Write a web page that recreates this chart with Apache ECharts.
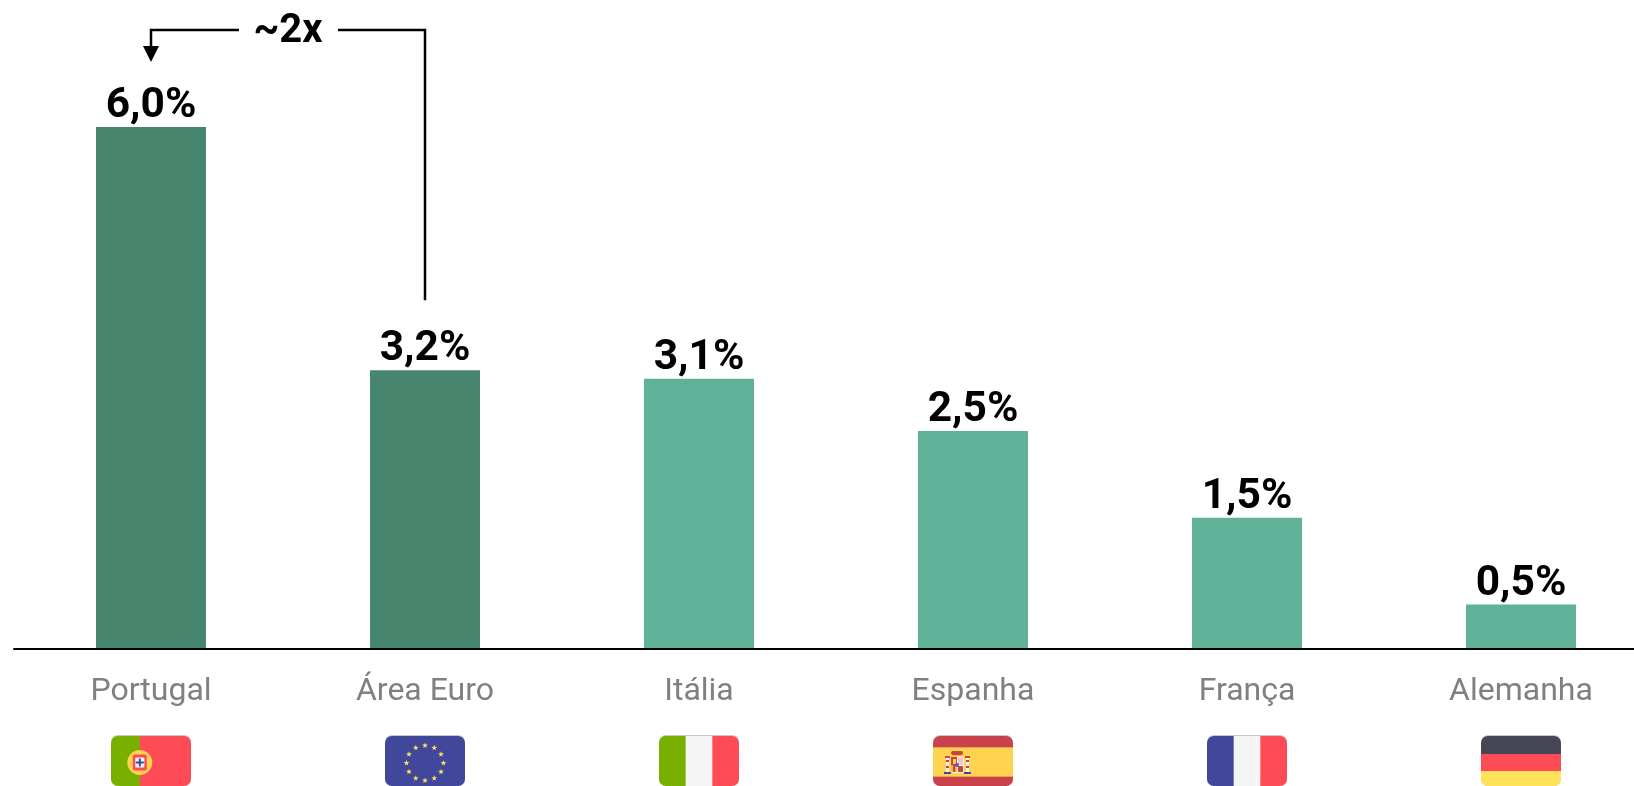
<!DOCTYPE html>
<html><head><meta charset="utf-8">
<style>html,body{margin:0;padding:0;background:#fff}#c{width:1634px;height:786px}</style>
<script src="https://cdn.jsdelivr.net/npm/echarts@6/dist/echarts.min.js"></script>
</head><body><div id="c"></div>
<script>
const categories = ['Portugal', 'Área Euro', 'Itália', 'Espanha', 'França', 'Alemanha'];
const values = [6.0, 3.2, 3.1, 2.5, 1.5, 0.5];
const flags = ['pt', 'eu', 'it', 'es', 'fr', 'de'];
const highlighted = ['Portugal', 'Área Euro'];
const annotation = '~2x';

const DARK = '#48856f', LIGHT = '#5fb297';
const RED = '#ff4b55', GREEN = '#78b000', BLUE = '#41479b', WHITE = '#f5f5f5', GOLD = '#ffd250';

function rect(x, y, w, h, fill, r) {
  return { type: 'rect', shape: { x, y, width: w, height: h, r: r || 0 }, style: { fill } };
}
function star(cx, cy, R, fill) {
  const pts = [];
  for (let i = 0; i < 10; i++) {
    const a = -Math.PI / 2 + i * Math.PI / 5, q = i % 2 ? R * 0.42 : R;
    pts.push([cx + q * Math.cos(a), cy + q * Math.sin(a)]);
  }
  return { type: 'polygon', shape: { points: pts }, style: { fill } };
}
function circle(cx, cy, r, fill) {
  return { type: 'circle', shape: { cx, cy, r }, style: { fill } };
}
function flagShapes(code, x, y, w, h) {
  const r = 7, s = [];
  s.push({ type: 'rect', shape: { x, y: y - 1, width: w, height: h + 1, r }, style: { fill: '#c9c6c6' } });
  const v3 = (a, b, c) => {
    const t = w / 3;
    s.push(rect(x, y, t + 1, h, a, [r, 0, 0, r]));
    s.push(rect(x + t, y, t + 1, h, b));
    s.push(rect(x + 2 * t, y, t, h, c, [0, r, r, 0]));
  };
  const h3 = (a, b, c, y1, y2) => {
    s.push(rect(x, y, w, y1 + 1, a, [r, r, 0, 0]));
    s.push(rect(x, y + y1, w, y2 - y1 + 1, b));
    s.push(rect(x, y + y2, w, h - y2, c, [0, 0, r, r]));
  };
  if (code === 'pt') {
    const cx = x + w * 0.36, cy = y + h * 0.53;
    s.push(rect(x, y, w * 0.36 + 1, h, GREEN, [r, 0, 0, r]));
    s.push(rect(x + w * 0.36, y, w * 0.64, h, RED, [0, r, r, 0]));
    s.push(circle(cx, cy, 12.5, GOLD));
    s.push(rect(cx - 7, cy - 8, 14, 16, RED, 2));
    s.push(rect(cx - 4.5, cy - 5, 9, 10, '#f5f5f5', 1));
    s.push(rect(cx - 1, cy - 4, 2, 8, BLUE));
    s.push(rect(cx - 4, cy - 1, 8, 2, BLUE));
  } else if (code === 'eu') {
    const cx = x + w / 2, cy = y + h * 0.54;
    s.push(rect(x, y, w, h, BLUE, r));
    for (let i = 0; i < 12; i++) {
      const a = i * Math.PI / 6;
      s.push(star(cx + 18.5 * Math.sin(a), cy - 17.5 * Math.cos(a), 3, '#ffe15a'));
    }
  } else if (code === 'it') {
    v3(GREEN, WHITE, RED);
  } else if (code === 'fr') {
    v3(BLUE, WHITE, RED);
  } else if (code === 'de') {
    h3('#464655', RED, '#ffe15a', 18, 35);
  } else if (code === 'es') {
    h3('#c8414b', GOLD, '#c8414b', 11, 41);
    s.push(rect(x, y + 11, w, 1, '#e8a24a'));
    s.push(rect(x, y + 40, w, 1, '#e8a24a'));
    const ex = x + w * 0.3, ey = y + 15;
    [-11, 9].forEach(d => {
      s.push(rect(ex + d, ey + 7, 3, 15, '#f5f5f5'));
      s.push(rect(ex + d, ey + 9, 3, 2, '#c8414b'));
      s.push(rect(ex + d, ey + 15, 3, 2, '#c8414b'));
      s.push(rect(ex + d - 1, ey + 5, 5, 2, '#c8414b'));
      s.push(rect(ex + d - 2, ey + 21, 7, 2, BLUE));
    });
    s.push(rect(ex - 6, ey, 12, 4, '#c8414b', 2));
    s.push(rect(ex - 5, ey + 4, 10, 1, '#ffb441'));
    s.push(rect(ex - 6, ey + 6, 13, 16, '#f5f5f5', 2));
    s.push(rect(ex - 6, ey + 6, 6, 8, '#c8414b'));
    s.push(rect(ex - 4, ey + 8, 3, 5, GOLD));
    s.push(rect(ex + 1, ey + 7, 5, 7, '#f7c6c6'));
    s.push(rect(ex - 6, ey + 14, 6, 7, '#ffb441'));
    s.push(rect(ex - 4, ey + 14, 2, 7, '#c8414b'));
    s.push(rect(ex + 1, ey + 15, 5, 6, '#c8414b'));
    s.push(circle(ex, ey + 14, 2, '#5064aa'));
  }
  return s;
}

const chart = echarts.init(document.getElementById('c'), null, { renderer: 'canvas' });
chart.setOption({
  animation: false,
  backgroundColor: '#fff',
  grid: { left: 14, width: 1644, top: 127, height: 521, containLabel: false, outerBoundsMode: 'none' },
  xAxis: {
    type: 'category', data: categories, offset: 1,
    axisTick: { show: false },
    axisLine: { show: true, onZero: false, lineStyle: { color: '#000', width: 2 } },
    axisLabel: { color: '#808080', fontFamily: 'Roboto', fontSize: 32, margin: 27, interval: 0 }
  },
  yAxis: { type: 'value', min: 0, max: 6, show: false, splitLine: { show: false } },
  series: [
    {
      type: 'bar', barWidth: 110, z: 1,
      data: values.map((v, i) => ({
        value: v,
        itemStyle: { color: highlighted.includes(categories[i]) ? DARK : LIGHT }
      })),
      label: {
        show: true, position: 'top', distance: -1, color: '#000',
        fontFamily: 'Roboto', fontWeight: 'bold', fontSize: 42.5,
        formatter: p => p.value.toFixed(1).replace('.', ',') + '%'
      }
    },
    {
      type: 'custom', silent: true, z: 3, clip: false,
      data: categories.map((c, i) => [i, 0]),
      encode: { x: 0, y: 1 },
      renderItem(params, api) {
        const p = api.coord([api.value(0), 0]);
        return { type: 'group', children: flagShapes(flags[params.dataIndex], p[0] - 40, p[1] + 88, 80, 50) };
      }
    },
    {
      type: 'custom', silent: true, z: 4, clip: false,
      data: [[0, 1]],
      encode: { x: [0, 1] },
      renderItem(params, api) {
        const a = api.coord([0, values[0]]);
        const b = api.coord([1, values[1]]);
        const yTop = a[1] - 97;
        const xa = a[0], xb = b[0];
        const line = pts => ({ type: 'polyline', shape: { points: pts }, style: { stroke: '#000', lineWidth: 2.5, fill: null } });
        return {
          type: 'group',
          children: [
            line([[xa, yTop + 17], [xa, yTop], [xa + 88, yTop]]),
            { type: 'polygon', shape: { points: [[xa - 8, yTop + 16], [xa + 8, yTop + 16], [xa, yTop + 32]] }, style: { fill: '#000' } },
            line([[xa + 187, yTop], [xb, yTop], [xb, b[1] - 70]]),
            { type: 'text', style: { text: annotation, x: xa + 137, y: yTop + 2, align: 'center', verticalAlign: 'middle', fill: '#000', font: 'bold 40px Roboto' } }
          ]
        };
      }
    }
  ]
});
</script></body></html>
